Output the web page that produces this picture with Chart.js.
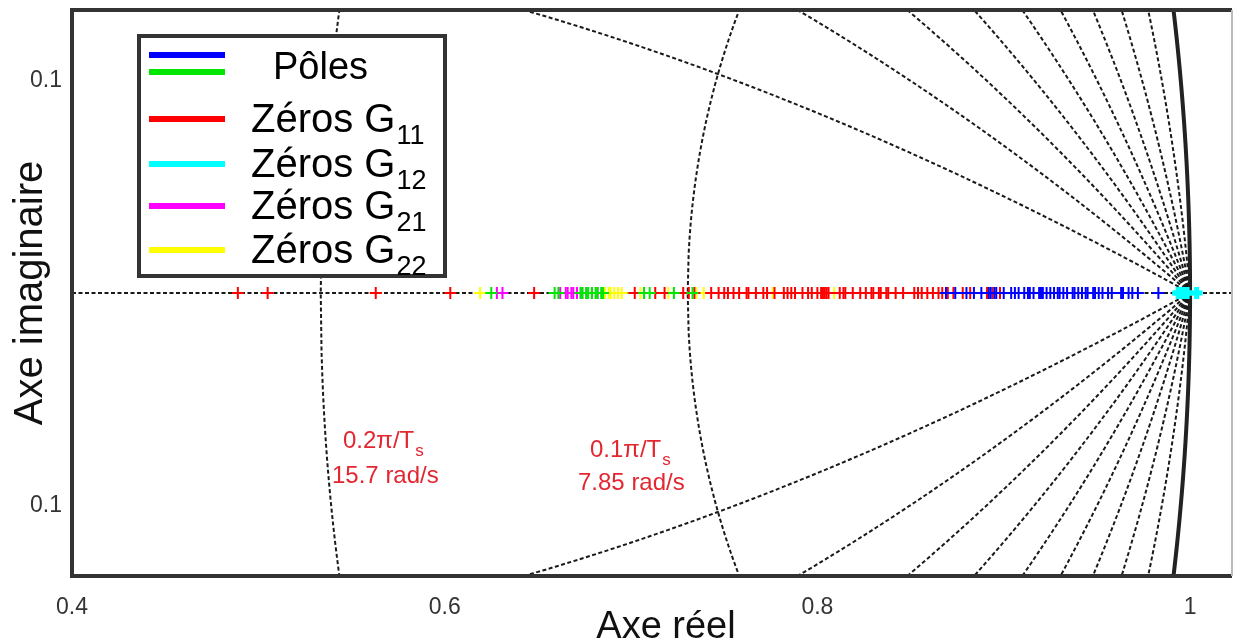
<!DOCTYPE html>
<html>
<head>
<meta charset="utf-8">
<script src="https://cdn.jsdelivr.net/npm/chart.js@4/dist/chart.umd.min.js"></script>
<style>
  html, body { margin: 0; padding: 0; background: #fff; overflow: hidden; }
  #wrap { width: 1234px; height: 655px; }
</style>
</head>
<body>
<div id="wrap"><canvas id="pzmap"></canvas></div>
<script>
  // axis ticks
  const xTicks = [0.4, 0.6, 0.8, 1];
  const yTicks = [-0.1, 0.1];

  // zgrid: damping ratios and natural frequencies (in pi/Ts)
  const dampingRatios = [0.1, 0.2, 0.3, 0.4, 0.5, 0.6, 0.7, 0.8, 0.9];
  const naturalFreqs = [0.1, 0.2, 0.3, 0.4, 0.5, 0.6, 0.7, 0.8, 0.9, 1.0];

  // poles / zeros on the real axis (real part)
  const polesBlue = [0.869, 0.874, 0.880, 0.884, 0.888, 0.892, 0.893, 0.895, 0.896, 0.900,
    0.904, 0.906, 0.908, 0.911, 0.913, 0.914, 0.916, 0.919, 0.920, 0.921, 0.923, 0.925,
    0.927, 0.929, 0.930, 0.932, 0.934, 0.937, 0.938, 0.940, 0.942, 0.944, 0.945, 0.948,
    0.949, 0.951, 0.953, 0.956, 0.958, 0.963, 0.964, 0.967, 0.969, 0.972, 0.983];
  const polesGreen = [0.625, 0.659, 0.661, 0.673, 0.674, 0.676, 0.677, 0.679, 0.681,
    0.682, 0.684, 0.685, 0.707, 0.710, 0.723, 0.733];
  const zerosG11 = [0.489, 0.505, 0.563, 0.603, 0.648, 0.702, 0.713, 0.718, 0.728, 0.731,
    0.734, 0.743, 0.747, 0.750, 0.752, 0.755, 0.758, 0.762, 0.763, 0.767, 0.771, 0.773,
    0.777, 0.782, 0.784, 0.786, 0.788, 0.792, 0.795, 0.797, 0.800, 0.802, 0.803, 0.804,
    0.805, 0.806, 0.812, 0.814, 0.815, 0.819, 0.823, 0.826, 0.829, 0.830, 0.833, 0.834,
    0.837, 0.838, 0.842, 0.846, 0.852, 0.854, 0.856, 0.859, 0.862, 0.865, 0.867, 0.870,
    0.873, 0.878, 0.882, 0.891, 0.894, 0.898];
  const zerosG12 = [0.9936, 0.9944, 0.9952, 0.9960, 0.9968, 0.9976, 0.9984, 1.0035];
  const zerosG21 = [0.628, 0.631, 0.662, 0.665, 0.666, 0.668, 0.669, 0.671, 0.673, 0.676,
    0.679, 0.682];
  const zerosG22 = [0.619, 0.686, 0.688, 0.689, 0.691, 0.693, 0.695, 0.705, 0.720, 0.735,
    0.739, 0.776, 0.809];

  const FONT = "'Liberation Sans', Arial, sans-serif";
  Chart.defaults.font.family = FONT;

  function onAxis(xs) {
    return xs.map((v) => ({ x: v, y: 0 }));
  }

  function markers(label, values, color, extra) {
    return Object.assign({
      label: label,
      data: onAxis(values),
      borderColor: color,
      backgroundColor: color,
      pointStyle: "cross",
      pointRadius: 6,
      pointBorderWidth: 2,
      showLine: false,
    }, extra || {});
  }

  // z-plane grid under the markers
  const zGrid = {
    id: "zGrid",
    beforeDatasetsDraw(chart) {
      const { ctx, chartArea: a, scales: { x, y } } = chart;
      const path = (pts) => {
        ctx.beginPath();
        pts.forEach(([u, v], i) => {
          const px = x.getPixelForValue(u), py = y.getPixelForValue(v);
          if (i) ctx.lineTo(px, py); else ctx.moveTo(px, py);
        });
        ctx.stroke();
      };
      ctx.save();
      ctx.beginPath();
      ctx.rect(a.left, a.top, a.right - a.left, a.bottom - a.top);
      ctx.clip();
      ctx.strokeStyle = "#1a1a1a";
      ctx.lineWidth = 2;
      ctx.setLineDash([4, 2.5]);

      path([[x.min, 0], [x.max, 0]]);

      dampingRatios.forEach((z) => {
        const wd = Math.sqrt(1 - z * z);
        [1, -1].forEach((s) => {
          const pts = [];
          for (let i = 0; i <= 1500; i++) {
            const t = (i / 1500) * Math.PI / wd;
            const r = Math.exp(-z * t);
            pts.push([r * Math.cos(wd * t), s * r * Math.sin(wd * t)]);
          }
          path(pts);
        });
      });

      naturalFreqs.forEach((w) => {
        const wn = w * Math.PI;
        [1, -1].forEach((s) => {
          const pts = [];
          for (let i = 0; i <= 300; i++) {
            const z = i / 300;
            const r = Math.exp(-z * wn);
            const th = wn * Math.sqrt(1 - z * z);
            pts.push([r * Math.cos(th), s * r * Math.sin(th)]);
          }
          path(pts);
        });
      });

      // unit circle (zeta = 0)
      ctx.setLineDash([]);
      ctx.strokeStyle = "#222";
      ctx.lineWidth = 4;
      const circ = [];
      for (let i = 0; i <= 100; i++) {
        const th = -0.25 + (i / 100) * 0.5;
        circ.push([Math.cos(th), Math.sin(th)]);
      }
      path(circ);
      ctx.restore();
    },
  };

  // frame, legend, x title and the red frequency notes
  const overlay = {
    id: "overlay",
    afterDraw(chart) {
      const { ctx, chartArea: a } = chart;
      ctx.save();
      ctx.strokeStyle = "#333";
      ctx.lineWidth = 4;
      ctx.beginPath();
      ctx.moveTo(a.right, a.top);
      ctx.lineTo(a.left, a.top);
      ctx.lineTo(a.left, a.bottom);
      ctx.lineTo(a.right, a.bottom);
      ctx.stroke();
      ctx.strokeStyle = "#bbb";
      ctx.lineWidth = 2;
      ctx.beginPath();
      ctx.moveTo(a.right, a.top);
      ctx.lineTo(a.right, a.bottom);
      ctx.stroke();

      // legend
      ctx.fillStyle = "#fff";
      ctx.fillRect(139, 36, 306, 240);
      ctx.strokeStyle = "#333";
      ctx.lineWidth = 4;
      ctx.strokeRect(139, 36, 306, 240);

      const ds = chart.data.datasets;
      const line = (yy, color) => {
        ctx.strokeStyle = color;
        ctx.lineWidth = 6;
        ctx.beginPath();
        ctx.moveTo(149, yy);
        ctx.lineTo(225, yy);
        ctx.stroke();
      };
      ctx.fillStyle = "#000";
      ctx.textBaseline = "alphabetic";
      ctx.textAlign = "left";
      line(55, ds[0].borderColor);
      line(72, ds[1].borderColor);
      ctx.font = "38px " + FONT;
      ctx.fillText(ds[0].label, 273, 79);

      const rows = [119, 164, 206, 250];
      ds.slice(2).forEach((d, i) => {
        const yy = rows[i];
        line(yy, d.borderColor);
        const main = d.label.slice(0, -2), sub = d.label.slice(-2);
        ctx.fillStyle = "#000";
        ctx.font = "40px " + FONT;
        ctx.fillText(main, 251, yy + 13);
        const w = ctx.measureText(main).width;
        ctx.font = "27px " + FONT;
        ctx.fillText(sub, 251 + w + 1, yy + 25);
      });

      // x axis title
      ctx.fillStyle = "#111";
      ctx.textAlign = "center";
      ctx.font = "38px " + FONT;
      ctx.fillText("Axe réel", 666, 638);
      ctx.textAlign = "left";

      // frequency notes
      ctx.fillStyle = "#e3262f";
      const note = (txt, sub, lx, by) => {
        ctx.font = "24px " + FONT;
        ctx.fillText(txt, lx, by);
        if (sub) {
          const w = ctx.measureText(txt).width;
          ctx.font = "17px " + FONT;
          ctx.fillText(sub, lx + w + 1, by + 8);
        }
      };
      note("0.2\u03c0/T", "s", 343, 448);
      note("15.7 rad/s", "", 332, 483);
      note("0.1\u03c0/T", "s", 590, 457);
      note("7.85 rad/s", "", 578, 490);
      ctx.restore();
    },
  };

  new Chart(document.querySelector("#pzmap").getContext("2d"), {
    type: "scatter",
    data: {
      datasets: [
        markers("Pôles", polesBlue, "#0000ff"),
        markers("Pôles", polesGreen, "#00e600"),
        markers("Zéros G11", zerosG11, "#ff0000"),
        markers("Zéros G12", zerosG12, "#00ffff", { pointBorderWidth: 5, pointRadius: 6 }),
        markers("Zéros G21", zerosG21, "#ff00ff"),
        markers("Zéros G22", zerosG22, "#ffff00"),
      ],
    },
    options: {
      responsive: true,
      maintainAspectRatio: false,
      animation: false,
      events: [],
      layout: { autoPadding: false, padding: { top: 10, right: 2, left: 0, bottom: 0 } },
      plugins: { legend: { display: false }, tooltip: { enabled: false } },
      scales: {
        x: {
          type: "linear",
          min: 0.4,
          max: 1.0225,
          afterBuildTicks: (s) => { s.ticks = xTicks.map((v) => ({ value: v })); },
          afterFit: (s) => {
            s.height = 79;
            s.paddingLeft = 0; s.paddingRight = 0; s.paddingTop = 0; s.paddingBottom = 0;
          },
          grid: { display: false, drawTicks: false },
          border: { display: false },
          ticks: { callback: (v) => String(v), font: { size: 23 }, color: "#333", padding: 18, maxRotation: 0 },
        },
        y: {
          min: -0.133,
          max: 0.133,
          afterBuildTicks: (s) => { s.ticks = yTicks.map((v) => ({ value: v })); },
          afterFit: (s) => {
            s.width = 72;
            s.paddingLeft = 0; s.paddingRight = 0; s.paddingTop = 0; s.paddingBottom = 0;
          },
          grid: { display: false, drawTicks: false },
          border: { display: false },
          ticks: { callback: (v) => String(Math.abs(v)), font: { size: 23 }, color: "#333", padding: 10 },
          title: { display: true, text: "Axe imaginaire", font: { size: 40 }, color: "#111", padding: { top: 7, bottom: 0 } },
        },
      },
    },
    plugins: [zGrid, overlay],
  });
</script>
</body>
</html>
